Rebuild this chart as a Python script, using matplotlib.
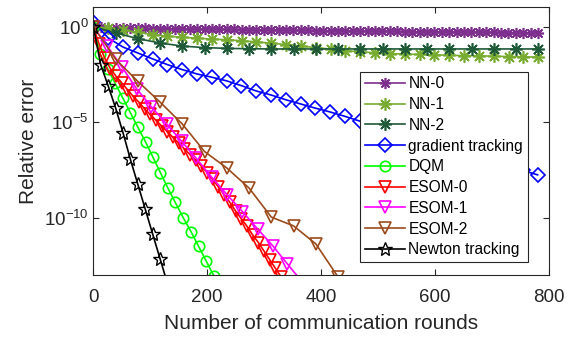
# Relative error vs communication rounds (log scale), MATLAB-like look
import numpy as np
import matplotlib
matplotlib.use('Agg')
import matplotlib.pyplot as plt
from matplotlib.ticker import NullLocator

plt.rcParams['font.family'] = ['Liberation Sans', 'DejaVu Sans']
plt.rcParams['mathtext.default'] = 'regular'

# ---- data (log10 of relative error) ----
x_nn0 = np.arange(0, 61) * 13.03
y_nn0 = [0, -0.03, -0.05, -0.06, -0.07, -0.08, -0.09, -0.09, -0.1, -0.1,
         -0.11, -0.11, -0.12, -0.12, -0.13, -0.13, -0.14, -0.14, -0.15, -0.15,
         -0.16, -0.16, -0.17, -0.17, -0.18, -0.18, -0.19, -0.19, -0.2, -0.2,
         -0.21, -0.21, -0.22, -0.22, -0.23, -0.23, -0.23, -0.24, -0.24, -0.25,
         -0.25, -0.25, -0.26, -0.26, -0.27, -0.27, -0.27, -0.28, -0.28, -0.29,
         -0.29, -0.29, -0.3, -0.3, -0.3, -0.31, -0.31, -0.32, -0.32, -0.32, -0.33]

x_nn1 = np.arange(0, 31) * 26.07
y_nn1 = [0, -0.08, -0.18, -0.3, -0.42, -0.5, -0.56, -0.61, -0.65, -0.69,
         -0.74, -0.8, -0.87, -0.94, -1.02, -1.1, -1.18, -1.26, -1.32, -1.37,
         -1.41, -1.44, -1.46, -1.48, -1.5, -1.52, -1.53, -1.55, -1.57, -1.58, -1.6]

x_nn2 = np.arange(0, 21) * 39.1
y_nn2 = [0, -0.33, -0.63, -0.86, -1.02, -1.1, -1.14, -1.16, -1.17, -1.17,
         -1.17, -1.17, -1.17, -1.17, -1.17, -1.17, -1.17, -1.17, -1.17, -1.17, -1.17]

x_gt = np.arange(0, 31) * 26.03
y_gt = [0.25, -0.59, -1.07, -1.38, -1.69, -1.99, -2.25, -2.48, -2.65, -2.84,
        -3.09, -3.37, -3.58, -3.83, -4.05, -4.27, -4.47, -4.7, -4.95, -5.18,
        -5.42, -5.65, -5.89, -6.12, -6.36, -6.59, -6.82, -7.06, -7.29, -7.53, -7.76]

x_dqm = [0, 12, 25, 38, 52, 65, 78, 92, 105, 118, 131, 144, 158, 172, 185, 198, 212, 225]
y_dqm = [0, -1.45, -2.2, -2.95, -3.75, -4.5, -5.25, -6.05, -6.85, -7.65,
         -8.45, -9.2, -10.0, -10.75, -11.5, -12.25, -13.05, -13.8]

x_esom0 = np.arange(0, 35) * 10
y_esom0 = [0, -0.9, -1.65, -2.2, -2.6, -2.95, -3.3, -3.65, -3.95, -4.3,
           -4.6, -4.9, -5.2, -5.5, -5.8, -6.1, -6.4, -6.7, -7.0, -7.3,
           -7.65, -8.0, -8.4, -8.8, -9.2, -9.65, -10.05, -10.45, -10.9, -11.3,
           -11.75, -12.2, -12.65, -13.1, -13.55]

x_esom1 = [0, 24, 50, 76, 102, 129, 155, 181, 208, 235, 262, 289, 315, 341, 368]
y_esom1 = [0, -1.0, -2.1, -3.25, -4.2, -5.1, -6.0, -6.9, -7.88, -8.8,
           -9.68, -10.6, -11.46, -12.42, -13.4]

x_esom2 = np.arange(0, 13) * 39.1
y_esom2 = [0, -1.7, -2.87, -3.95, -5.1, -6.54, -7.4, -8.45, -9.97, -10.43,
           -11.37, -13.1, -14.8]

x_nt = np.arange(0, 12) * 13.03
y_nt = [0, -2.0, -3.1, -4.25, -5.55, -6.95, -8.25, -9.55, -10.85, -12.15, -13.45, -14.75]

fig = plt.figure(figsize=(5.8, 3.37), dpi=100)
ax = fig.add_axes([0.1609, 0.184, 0.7848, 0.7938])

lw = 1.2
asterisk = (8, 2, 0)
ax.plot(x_nn0, 10.0 ** np.array(y_nn0), color='#7E2F8E', lw=lw, marker=asterisk, ms=8, mew=1.2, label='NN-0')
ax.plot(x_nn1, 10.0 ** np.array(y_nn1), color='#77AC30', lw=lw, marker=asterisk, ms=9, mew=1.2, label='NN-1')
ax.plot(x_nn2, 10.0 ** np.array(y_nn2), color='#1F5A38', lw=lw, marker=asterisk, ms=9, mew=1.2, label='NN-2')
ax.plot(x_gt, 10.0 ** np.array(y_gt), color='#0000FF', lw=lw, marker='D', ms=7, mfc='none', mew=1.2, label='gradient tracking')
ax.plot(x_dqm, 10.0 ** np.array(y_dqm), color='#00FF00', lw=lw, marker='o', ms=7.5, mfc='none', mew=1.2, label='DQM')
ax.plot(x_esom0, 10.0 ** np.array(y_esom0), color='#FF0000', lw=lw, marker='v', ms=8, mfc='none', mew=1.2, label='ESOM-0')
ax.plot(x_esom1, 10.0 ** np.array(y_esom1), color='#FF00FF', lw=lw, marker='v', ms=8, mfc='none', mew=1.2, label='ESOM-1')
ax.plot(x_esom2, 10.0 ** np.array(y_esom2), color='#9C4A1A', lw=lw, marker='v', ms=8, mfc='none', mew=1.2, label='ESOM-2')
ax.plot(x_nt, 10.0 ** np.array(y_nt), color='black', lw=lw, marker='*', ms=10, mfc='none', mew=1.0, label='Newton tracking')

ax.set_yscale('log')
ax.set_xlim(0, 800)
ax.set_ylim(1e-13, 10)
ax.set_xticks([0, 200, 400, 600, 800])
ax.set_yticks([1, 1e-5, 1e-10])
ax.yaxis.set_minor_locator(NullLocator())
ax.tick_params(direction='in', top=True, right=True, length=4, width=0.8,
               colors='#262626', labelsize=13.5)
ax.tick_params(axis='x', pad=10)
for s in ax.spines.values():
    s.set_color('#262626')
    s.set_linewidth(0.8)

ax.set_xlabel('Number of communication rounds', fontsize=15, color='#262626', labelpad=6)
ax.set_ylabel('Relative error', fontsize=15, color='#262626')

leg = ax.legend(loc='upper left', bbox_to_anchor=(0.586, 0.760), borderaxespad=0,
                fontsize=11.2, fancybox=False, framealpha=1, edgecolor='#262626',
                handlelength=2.6, handletextpad=0.2, labelspacing=0.37, borderpad=0.3)
leg.get_frame().set_linewidth(0.8)

fig.savefig('out.png', dpi=100)
